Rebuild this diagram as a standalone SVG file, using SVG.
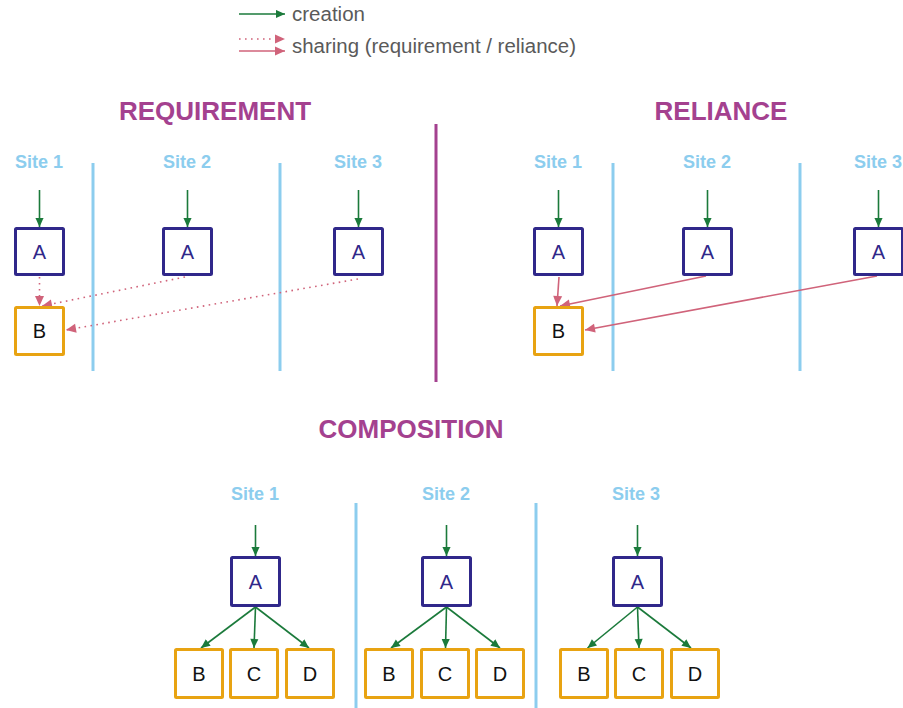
<svg xmlns="http://www.w3.org/2000/svg" width="903" height="708" viewBox="0 0 903 708">
<defs>
<marker id="ag" viewBox="0 0 10 10" refX="10" refY="5" markerWidth="10" markerHeight="9" markerUnits="userSpaceOnUse" orient="auto"><path d="M0,0.5 L10,5 L0,9.5 z" fill="#1B7A3B"/></marker>
<marker id="ap" viewBox="0 0 10 10" refX="10" refY="5" markerWidth="11" markerHeight="10" markerUnits="userSpaceOnUse" orient="auto"><path d="M0,0.5 L10,5 L0,9.5 z" fill="#D0637A"/></marker>
</defs>
<style>
.title{font-family:"Liberation Sans",Arial,sans-serif;font-weight:bold;font-size:26px;fill:#A4418F;text-anchor:middle}
.site{font-family:"Liberation Sans",Arial,sans-serif;font-weight:bold;font-size:18px;fill:#8CCDEE;text-anchor:middle}
.leg{font-family:"Liberation Sans",Arial,sans-serif;font-size:20px;fill:#5A5A5A}
.a rect{fill:#fff;stroke:#30288A;stroke-width:3}
.a text{font-family:"Liberation Sans",Arial,sans-serif;font-size:20px;fill:#30288A;text-anchor:middle}
.b rect{fill:#fff;stroke:#E8A312;stroke-width:3}
.b text{font-family:"Liberation Sans",Arial,sans-serif;font-size:20px;fill:#111;text-anchor:middle}
.sep{stroke:#8CCDEE;stroke-width:3}
.green{stroke:#1B7A3B;stroke-width:1.6;fill:none;marker-end:url(#ag)}
.pink{stroke:#D0637A;stroke-width:1.6;fill:none;marker-end:url(#ap)}
.dot{stroke-dasharray:1.6 4.4}
</style>

<g id="legend">
<line class="green" x1="239" y1="14" x2="285" y2="14"/>
<line class="pink dot" x1="239" y1="39" x2="285" y2="39"/>
<line class="pink" x1="239" y1="51" x2="285" y2="51"/>
<text class="leg" x="292" y="21" textLength="73" lengthAdjust="spacingAndGlyphs">creation</text>
<text class="leg" x="292" y="53" textLength="284" lengthAdjust="spacingAndGlyphs">sharing (requirement / reliance)</text>
</g>

<g id="titles">
<text class="title" x="215" y="120">REQUIREMENT</text>
<text class="title" x="721" y="120">RELIANCE</text>
<text class="title" x="411" y="438">COMPOSITION</text>
</g>

<g id="site-labels">
<text class="site" x="39" y="168">Site 1</text>
<text class="site" x="187" y="168">Site 2</text>
<text class="site" x="358" y="168">Site 3</text>
<text class="site" x="558" y="168">Site 1</text>
<text class="site" x="707" y="168">Site 2</text>
<text class="site" x="878" y="168">Site 3</text>
<text class="site" x="255" y="500">Site 1</text>
<text class="site" x="446" y="500">Site 2</text>
<text class="site" x="636" y="500">Site 3</text>
</g>

<g id="separators">
<line class="sep" x1="93" y1="163" x2="93" y2="371"/>
<line class="sep" x1="280" y1="163" x2="280" y2="371"/>
<line class="sep" x1="613" y1="163" x2="613" y2="371"/>
<line class="sep" x1="800" y1="163" x2="800" y2="371"/>
<line x1="436" y1="124" x2="436" y2="382" stroke="#A4418F" stroke-width="3"/>
<line class="sep" x1="356" y1="503" x2="356" y2="708"/>
<line class="sep" x1="536" y1="503" x2="536" y2="708"/>
</g>

<g id="connectors">
<line class="green" x1="39.5" y1="190" x2="39.5" y2="227"/>
<line class="green" x1="187.5" y1="190" x2="187.5" y2="227"/>
<line class="green" x1="358.5" y1="190" x2="358.5" y2="227"/>
<line class="green" x1="558.5" y1="190" x2="558.5" y2="227"/>
<line class="green" x1="707.5" y1="190" x2="707.5" y2="227"/>
<line class="green" x1="878.5" y1="190" x2="878.5" y2="227"/>
<line class="pink dot" x1="39.5" y1="277" x2="39.5" y2="306"/>
<line class="pink dot" x1="185" y1="277" x2="42" y2="306"/>
<line class="pink dot" x1="358" y1="279" x2="66" y2="330"/>
<line class="pink" x1="559" y1="277" x2="557" y2="306"/>
<line class="pink" x1="706" y1="276" x2="560" y2="306"/>
<line class="pink" x1="877" y1="276" x2="585" y2="330"/>
<line class="green" x1="255.5" y1="525" x2="255.5" y2="556"/>
<line class="green" x1="446.5" y1="525" x2="446.5" y2="556"/>
<line class="green" x1="637.5" y1="525" x2="637.5" y2="556"/>
<line class="green" x1="255.5" y1="607" x2="201" y2="648"/>
<line class="green" x1="255.5" y1="607" x2="254" y2="648"/>
<line class="green" x1="255.5" y1="607" x2="309" y2="648"/>
<line class="green" x1="446.5" y1="607" x2="391" y2="648"/>
<line class="green" x1="446.5" y1="607" x2="445.5" y2="648"/>
<line class="green" x1="446.5" y1="607" x2="500" y2="648"/>
<line class="green" x1="637.5" y1="607" x2="587.5" y2="648"/>
<line class="green" x1="637.5" y1="607" x2="639" y2="648"/>
<line class="green" x1="637.5" y1="607" x2="691" y2="648"/>
</g>

<g id="req-a1" class="a"><rect x="15.5" y="228.5" width="48" height="46" rx="1"/><text x="39.5" y="259">A</text></g>
<g id="req-a2" class="a"><rect x="163.5" y="228.5" width="48" height="46" rx="1"/><text x="187.5" y="259">A</text></g>
<g id="req-a3" class="a"><rect x="334.5" y="228.5" width="48" height="46" rx="1"/><text x="358.5" y="259">A</text></g>
<g id="req-b" class="b"><rect x="15.5" y="307.5" width="48" height="47" rx="1"/><text x="39.5" y="338">B</text></g>

<g id="rel-a1" class="a"><rect x="534.5" y="228.5" width="48" height="46" rx="1"/><text x="558.5" y="259">A</text></g>
<g id="rel-a2" class="a"><rect x="683.5" y="228.5" width="48" height="46" rx="1"/><text x="707.5" y="259">A</text></g>
<g id="rel-a3" class="a"><rect x="854.5" y="228.5" width="48" height="46" rx="1"/><text x="878.5" y="259">A</text></g>
<g id="rel-b" class="b"><rect x="534.5" y="307.5" width="48" height="47" rx="1"/><text x="558.5" y="338">B</text></g>

<g id="comp1-a" class="a"><rect x="231.5" y="557.5" width="48" height="48" rx="1"/><text x="255.5" y="589">A</text></g>
<g id="comp1-b" class="b"><rect x="175.5" y="649.5" width="47" height="48" rx="1"/><text x="199" y="681">B</text></g>
<g id="comp1-c" class="b"><rect x="230.5" y="649.5" width="47" height="48" rx="1"/><text x="254" y="681">C</text></g>
<g id="comp1-d" class="b"><rect x="286.5" y="649.5" width="47" height="48" rx="1"/><text x="310" y="681">D</text></g>

<g id="comp2-a" class="a"><rect x="422.5" y="557.5" width="48" height="48" rx="1"/><text x="446.5" y="589">A</text></g>
<g id="comp2-b" class="b"><rect x="365.5" y="649.5" width="47" height="48" rx="1"/><text x="389" y="681">B</text></g>
<g id="comp2-c" class="b"><rect x="421.5" y="649.5" width="47" height="48" rx="1"/><text x="445" y="681">C</text></g>
<g id="comp2-d" class="b"><rect x="476.5" y="649.5" width="47" height="48" rx="1"/><text x="500" y="681">D</text></g>

<g id="comp3-a" class="a"><rect x="613.5" y="557.5" width="48" height="48" rx="1"/><text x="637.5" y="589">A</text></g>
<g id="comp3-b" class="b"><rect x="560.5" y="649.5" width="47" height="48" rx="1"/><text x="584" y="681">B</text></g>
<g id="comp3-c" class="b"><rect x="615.5" y="649.5" width="47" height="48" rx="1"/><text x="639" y="681">C</text></g>
<g id="comp3-d" class="b"><rect x="671.5" y="649.5" width="47" height="48" rx="1"/><text x="695" y="681">D</text></g>
</svg>
